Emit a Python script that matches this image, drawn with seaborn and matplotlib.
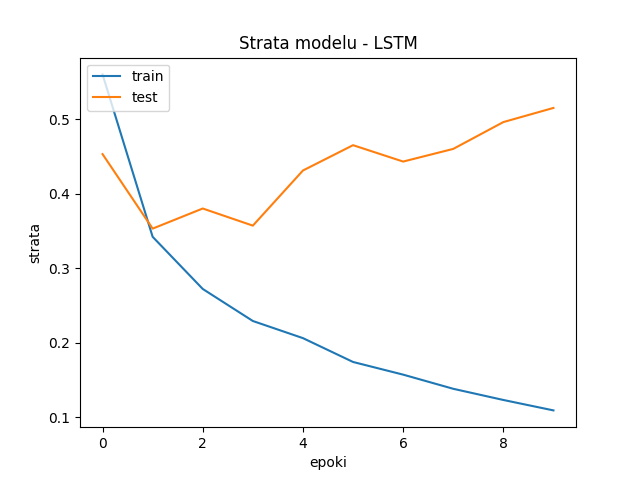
import matplotlib
matplotlib.use("Agg")
import matplotlib.pyplot as plt
import seaborn as sns
import pandas as pd

epochs = list(range(10))
train = [0.560, 0.342, 0.272, 0.229, 0.206, 0.174, 0.157, 0.138, 0.123, 0.109]
test = [0.453, 0.353, 0.380, 0.357, 0.431, 0.465, 0.443, 0.460, 0.496, 0.515]

fig, ax = plt.subplots(figsize=(6.4, 4.8), dpi=100)
sns.lineplot(x=epochs, y=train, ax=ax, color="#1f77b4", label="train")
sns.lineplot(x=epochs, y=test, ax=ax, color="#ff7f0e", label="test")
ax.set_title("Strata modelu - LSTM")
ax.set_xlabel("epoki")
ax.set_ylabel("strata")
ax.legend(loc="upper left")
fig.savefig("out.png")
